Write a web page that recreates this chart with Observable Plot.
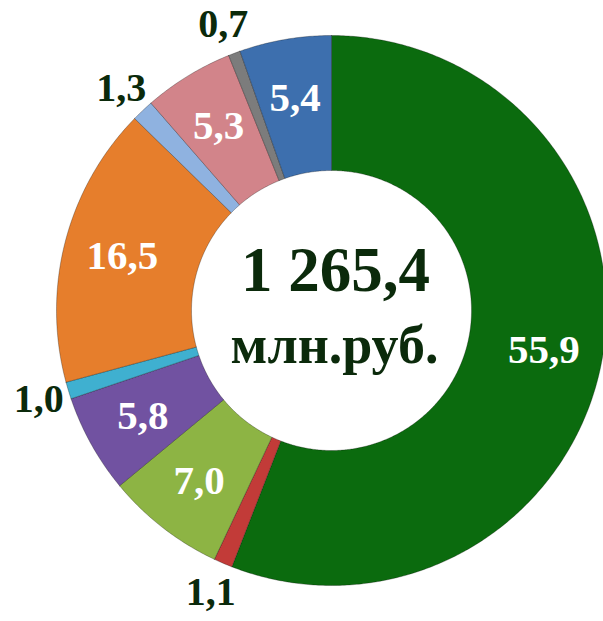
<!DOCTYPE html>
<html>
<head>
<meta charset="utf-8">
<script src="https://cdn.jsdelivr.net/npm/d3@7"></script>
<script src="https://cdn.jsdelivr.net/npm/@observablehq/plot@0.6"></script>
<style>
  html, body { margin: 0; padding: 0; background: #ffffff; }
  #chart { width: 603px; height: 621px; overflow: hidden; }
</style>
</head>
<body>
<div id="chart"></div>
<script>
// ---- data ----
const categories = ["A", "B", "C", "D", "E", "F", "G", "H", "I", "J"];
const values = [55.9, 1.1, 7.0, 5.8, 1.0, 16.5, 1.3, 5.3, 0.7, 5.4];
const valueLabels = ["55,9", "1,1", "7,0", "5,8", "1,0", "16,5", "1,3", "5,3", "0,7", "5,4"];
const colors = ["#0b6b0e", "#c23b38", "#8db444", "#7152a1", "#3fb0d0", "#e67e2c", "#8fb2e0", "#d2848a", "#7c7c7c", "#3d6fae"];
const labelOutside = [false, true, false, false, true, false, true, false, true, false];
const totalLabel = "1 265,4";
const unitLabel = "млн.руб.";

// ---- layout ----
const W = 603, H = 621;
const cx = 331, cy = 310;
const rOuter = 275, rInner = 140;
const rLabelIn = 216, rLabelOut = 306;

const pie = d3.pie().sort(null).value(d => d.value).startAngle(0).endAngle(2 * Math.PI);
const table = categories.map((c, i) => ({cat: c, value: values[i], label: valueLabels[i], outside: labelOutside[i]}));
const arcs = pie(table);

// polygon points for each slice (angles from the pie, clockwise from top)
const pts = [];
for (const a of arcs) {
  const n = Math.max(4, Math.ceil((a.endAngle - a.startAngle) / (Math.PI / 360)));
  for (let k = 0; k <= n; k++) {
    const t = a.startAngle + (a.endAngle - a.startAngle) * k / n;
    pts.push({cat: a.data.cat, x: rOuter * Math.sin(t), y: rOuter * Math.cos(t)});
  }
  for (let k = n; k >= 0; k--) {
    const t = a.startAngle + (a.endAngle - a.startAngle) * k / n;
    pts.push({cat: a.data.cat, x: rInner * Math.sin(t), y: rInner * Math.cos(t)});
  }
  const t0 = a.startAngle;
  pts.push({cat: a.data.cat, x: rOuter * Math.sin(t0), y: rOuter * Math.cos(t0)});
}

const labels = arcs.map(a => {
  const m = (a.startAngle + a.endAngle) / 2;
  const r = a.data.outside ? rLabelOut : rLabelIn;
  return {label: a.data.label, outside: a.data.outside, x: r * Math.sin(m), y: r * Math.cos(m)};
});

const serif = "'Liberation Serif', 'DejaVu Serif', 'Times New Roman', serif";

const chart = Plot.plot({
  width: W,
  height: H,
  margin: 0,
  x: {domain: [-cx, W - cx], axis: null},
  y: {domain: [-(H - cy), cy], axis: null},
  color: {domain: categories, range: colors},
  style: {background: "#ffffff", fontFamily: serif},
  marks: [
    Plot.line(pts, {x: "x", y: "y", z: "cat", fill: "cat", stroke: "#000000", strokeOpacity: 0.28, strokeWidth: 1, curve: "linear"}),
    Plot.text(labels.filter(d => !d.outside), {x: "x", y: "y", text: "label", fill: "#ffffff", fontSize: 41, fontWeight: "bold", fontFamily: serif}),
    Plot.text(labels.filter(d => d.outside), {x: "x", y: "y", text: "label", fill: "#0b2a0b", fontSize: 40, fontWeight: "bold", fontFamily: serif}),
    Plot.text([totalLabel], {x: () => 4, y: () => 40, text: d => d, fill: "#0b2a0b", fontSize: 63, fontWeight: "bold", fontFamily: serif}),
    Plot.text([unitLabel], {x: () => 3, y: () => -35, text: d => d, fill: "#0b2a0b", fontSize: 54, fontWeight: "bold", fontFamily: serif})
  ]
});
document.getElementById("chart").appendChild(chart);
</script>
</body>
</html>
